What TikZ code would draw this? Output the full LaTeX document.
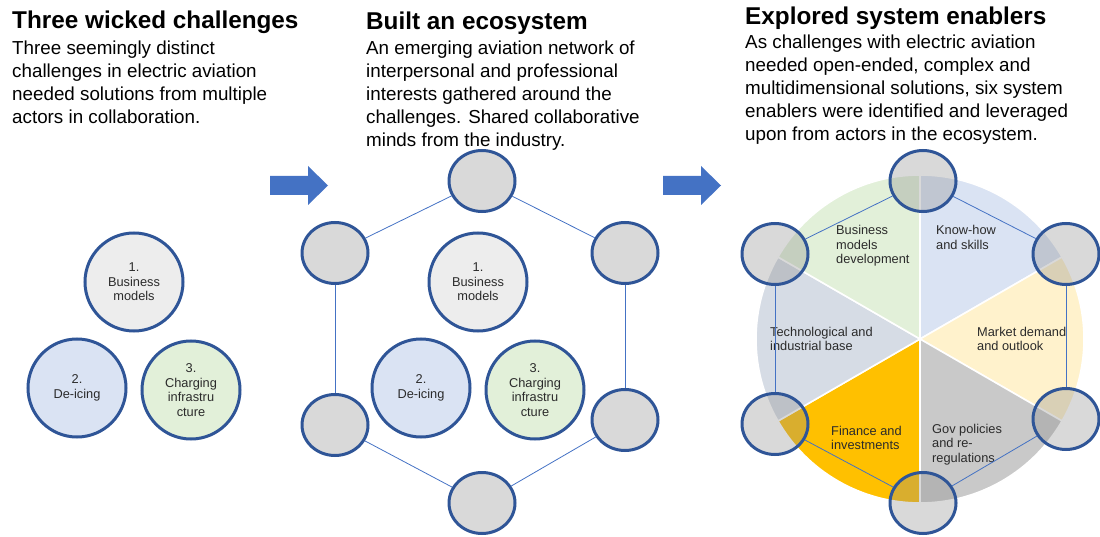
\documentclass[tikz,border=0pt]{standalone}
\usepackage{fontspec}
\setmainfont{Liberation Sans}
\usetikzlibrary{shapes.geometric}

\definecolor{ringblue}{HTML}{2F5597}
\definecolor{lineblue}{HTML}{4472C4}
\definecolor{labelgray}{HTML}{2B2B2B}
\definecolor{bizgray}{HTML}{EDEDED}
\definecolor{iceblue}{HTML}{DAE3F3}
\definecolor{chargegreen}{HTML}{E2F0D9}
\definecolor{actorgray}{HTML}{D9D9D9}
\definecolor{shadegray}{HTML}{8C8C8C}
\definecolor{knowblue}{HTML}{DAE3F3}
\definecolor{marketyellow}{HTML}{FFF2CC}
\definecolor{govgray}{HTML}{C9C9C9}
\definecolor{financegold}{HTML}{FFC000}
\definecolor{techblue}{HTML}{D6DCE5}
\definecolor{bizgreen}{HTML}{E2F0D9}

\begin{document}
\begin{tikzpicture}[x=1pt,y=-1pt,
        challenge/.style={circle,draw=ringblue,line width=3pt,minimum size=98pt,inner sep=0pt,
                align=center,text=labelgray,font=\fontsize{12.8}{14.5}\selectfont},
        actor/.style={ellipse,draw=ringblue,line width=3pt,minimum width=66pt,minimum height=61pt,inner sep=0pt},
        headline/.style={anchor=base west,inner sep=0pt,font=\fontsize{24.3}{28}\selectfont\bfseries},
        blurb/.style={anchor=base west,inner sep=0pt,align=left,font=\fontsize{18.8}{23}\selectfont},
        enabler/.style={anchor=base west,inner sep=0pt,align=left,text=labelgray,font=\fontsize{12.8}{14.5}\selectfont},
        link/.style={lineblue,line width=0.8pt}]
        \useasboundingbox (0,0) rectangle (1100,537);

        % the three headings and their texts (placed at the baseline of the last line)
        \node[headline] (h1) at (12,29) {Three wicked challenges};
        \node[blurb] (t1) at (12,124) {Three seemingly distinct\\challenges in electric aviation\\needed solutions from multiple\\actors in collaboration.};
        \node[headline] (h2) at (366,30) {Built an ecosystem};
        \node[blurb] (t2) at (366,147) {An emerging aviation network of\\interpersonal and professional\\interests gathered around the\\challenges. Shared collaborative\\minds from the industry.};
        \node[headline] (h3) at (745,25) {Explored system enablers};
        \node[blurb] (t3) at (745,141) {As challenges with electric aviation\\needed open-ended, complex and\\multidimensional solutions, six system\\enablers were identified and leveraged\\upon from actors in the ecosystem.};

        % the block arrows between the panels
        \foreach \ax in {270,663} {
                \fill[lineblue] (\ax,176) -- (\ax+38,176) -- (\ax+38,166) -- (\ax+58,185.5)
                        -- (\ax+38,205) -- (\ax+38,195) -- (\ax,195) -- cycle;
        }

        % the three challenges, once on their own and once in the ecosystem
        \foreach \dx/\p in {0/p, 344/q} {
                \node[challenge,fill=bizgray] (\p biz) at (134+\dx,282) {1.\\Business\\models};
                \node[challenge,fill=iceblue] (\p ice) at (77+\dx,388) {2.\\De-icing};
                \node[challenge,fill=chargegreen] (\p charge) at (191+\dx,390) {3.\\Charging\\infrastru\\cture};
        }

        % the actors of the ecosystem
        \foreach \n/\x/\y in {t/482/181, ul/335/253, ur/625/253, ll/335/425, lr/625/420, b/482/503}
                \node[actor,fill=actorgray] (a\n) at (\x,\y) {};
        \foreach \p/\q in {t/ul, t/ur, ul/ll, ur/lr, ll/b, lr/b}
                \draw[link] (a\p) -- (a\q);

        % draw the pie of the six enablers
        \coordinate (pc) at (920,339);
        \foreach \a/\col in {30/knowblue, -30/marketyellow, -90/govgray,
                        -150/financegold, 150/techblue, 90/bizgreen}
                \filldraw[fill=\col,draw=white,line width=1.6pt]
                        (pc) -- ++(\a:164pt) arc[start angle=\a, end angle=\a+60, radius=164pt] -- cycle;

        \node[enabler] (e1) at (836,264) {Business\\models\\development};
        \node[enabler] (e2) at (936,249.5) {Know-how\\and skills};
        \node[enabler] (e3) at (770,350.5) {Technological and\\industrial base};
        \node[enabler] (e4) at (977,350.5) {Market demand\\and outlook};
        \node[enabler] (e5) at (831,449.5) {Finance and\\investments};
        \node[enabler] (e6) at (932,462) {Gov policies\\and re-\\regulations};

        % the actors round the enablers
        \foreach \n/\x/\y in {t/923/181, ul/775/254, ur/1066/254, ll/775/424, lr/1066/419, b/923/503}
                \node[actor,fill=shadegray,fill opacity=0.33] (s\n) at (\x,\y) {};
        \foreach \p/\q in {t/ul, t/ur, ul/ll, ur/lr, ll/b, lr/b}
                \draw[link] (s\p) -- (s\q);
\end{tikzpicture}
\end{document}
